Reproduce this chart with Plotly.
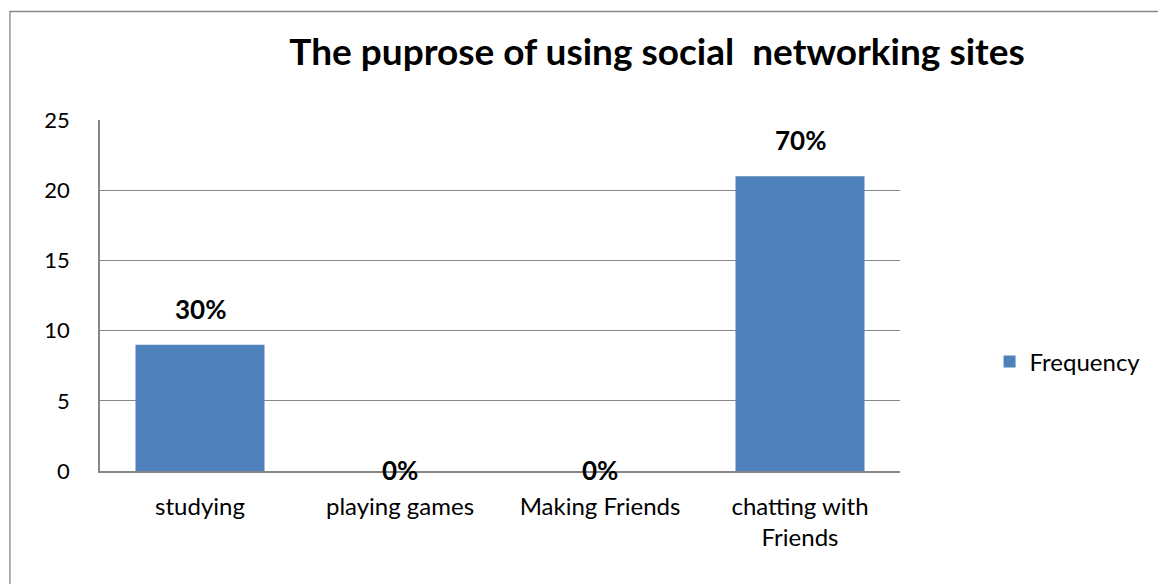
import plotly.graph_objects as go

categories = ["studying", "playing games", "Making Friends", "chatting with<br>Friends"]
frequency = [9, 0, 0, 21]
percent_labels = ["30%", "0%", "0%", "70%"]
y_ticks = [0, 5, 10, 15, 20, 25]

FONT = "Lato"
GRID = "#868686"
BAR = "#4F81BD"

W, H = 1158, 584
L, R, T, B = 100, 254, 120, 113
pw, ph = W - L - R, H - T - B

fig = go.Figure()
fig.add_trace(go.Bar(
    x=categories, y=frequency, name="Frequency",
    marker=dict(color=BAR, line=dict(width=0)),
))

# percentage labels sitting above each bar
for cat, val, lab in zip(categories, frequency, percent_labels):
    fig.add_annotation(
        x=cat, y=val, text=f"<b>{lab}</b>", showarrow=False,
        yanchor="middle", yshift=36 if val > 0 else 1,
        font=dict(family=FONT, size=26, color="#000000"),
    )

# outer chart frame
def px_x(p):
    return (p - L) / pw

def px_y(p):
    return (H - B - p) / ph

fig.add_shape(type="rect", xref="paper", yref="paper",
              x0=px_x(9.5), x1=px_x(1200), y0=px_y(640), y1=px_y(11.5),
              line=dict(color=GRID, width=1.3), fillcolor="rgba(0,0,0,0)", layer="below")

fig.update_layout(
    width=W, height=H,
    margin=dict(l=L, r=R, t=T, b=B),
    paper_bgcolor="white", plot_bgcolor="white",
    bargap=0.355,
    title=dict(text="<b>The puprose of using social  networking sites</b>",
               x=657 / W, xanchor="center", y=1 - 52 / H, yanchor="middle",
               font=dict(family=FONT, size=37, color="#000000")),
    font=dict(family=FONT, size=21, color="#000000"),
    showlegend=True,
    legend=dict(x=px_x(994), y=px_y(362), xanchor="left", yanchor="middle",
                font=dict(family=FONT, size=24, color="#000000"),
                bgcolor="rgba(0,0,0,0)", itemwidth=30),
    xaxis=dict(showline=True, linecolor=GRID, linewidth=1.5, showgrid=False,
               ticks="", ticklabelstandoff=13, tickfont=dict(size=24)),
    yaxis=dict(range=[0, 25], tickvals=y_ticks, showgrid=True, gridcolor=GRID, gridwidth=1,
               showline=True, linecolor=GRID, linewidth=1.5, zeroline=False,
               ticks="", ticklabelstandoff=24, tickfont=dict(size=22)),
)

fig.write_html("out.html")
